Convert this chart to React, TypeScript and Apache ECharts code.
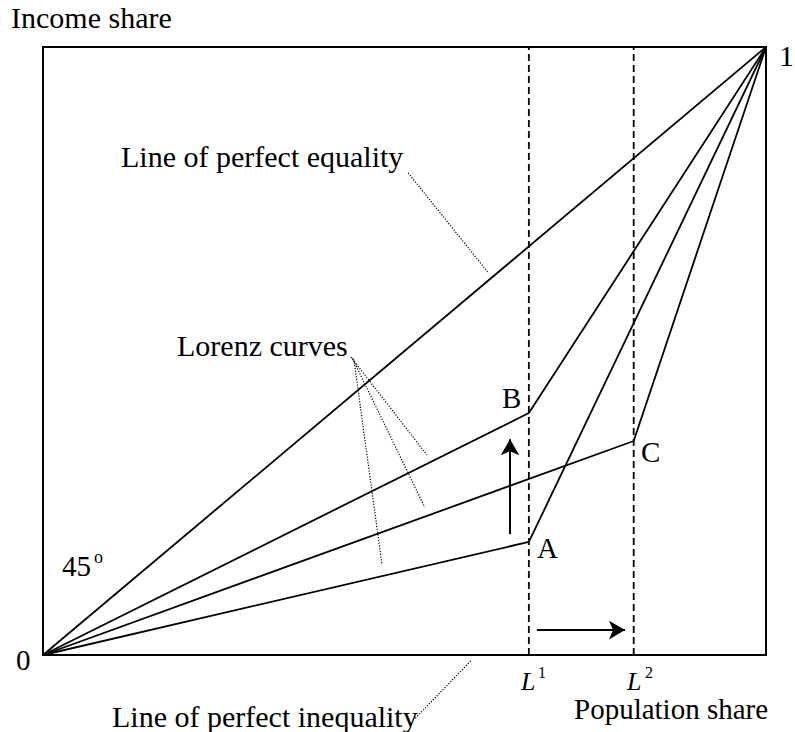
import React, { useEffect, useRef } from "react";
import * as echarts from "echarts";

// Population share (x) and income share (y), both on [0, 1]
const L1 = 0.672;
const L2 = 0.817;
const equalityLine = [[0, 0], [1, 1]];
const lorenzA = [[0, 0], [L1, 0.186], [1, 1]];
const lorenzB = [[0, 0], [L1, 0.398], [1, 1]];
const lorenzC = [[0, 0], [L2, 0.352], [1, 1]];
const dashL1 = [[L1, 0], [L1, 1]];
const dashL2 = [[L2, 0], [L2, 1]];
const arrowUp = [[0.646, 0.199], [0.646, 0.355]];
const arrowRight = [[0.683, 0.041], [0.805, 0.041]];
const leaderEquality = [[0.505, 0.793], [0.615, 0.63]];
const leaderLorenz1 = [[0.426, 0.49], [0.531, 0.329]];
const leaderLorenz2 = [[0.428, 0.488], [0.528, 0.243]];
const leaderLorenz3 = [[0.43, 0.486], [0.469, 0.148]];
const leaderInequality = [[0.515, -0.104], [0.593, -0.008]];

const FONT = '"Liberation Serif", "Times New Roman", serif';

function txt(text: string, left: number, baseline: number, size = 30, italic = false) {
  return {
    type: "text",
    x: left,
    y: baseline - 0.34 * size,
    silent: true,
    style: {
      text,
      fill: "#000",
      font: `${italic ? "italic " : ""}${size}px ${FONT}`,
      textAlign: "left",
      textVerticalAlign: "middle",
    },
  };
}

export default function App() {
  const ref = useRef<HTMLDivElement>(null);
  useEffect(() => {
    if (!ref.current) return;
    const chart = echarts.init(ref.current, null, { renderer: "svg" });
    const solid = (data: number[][]) => ({
      type: "line",
      data,
      symbol: "none",
      silent: true,
      clip: false,
      lineStyle: { color: "#000", width: 1.8 },
    });
    const dashed = (data: number[][]) => ({
      type: "line",
      data,
      symbol: "none",
      silent: true,
      lineStyle: { color: "#000", width: 1.8, type: [7, 4] },
    });
    const dotted = (data: number[][]) => ({
      type: "line",
      data,
      symbol: "none",
      silent: true,
      clip: false,
      lineStyle: { color: "#000", width: 1.2, type: [1.2, 1.6] },
    });
    chart.setOption({
      animation: false,
      backgroundColor: "#fff",
      grid: {
        left: 43,
        right: 29,
        top: 47,
        bottom: 77,
        show: true,
        borderColor: "#000",
        borderWidth: 2,
        backgroundColor: "transparent",
      },
      xAxis: { type: "value", min: 0, max: 1, show: false },
      yAxis: { type: "value", min: 0, max: 1, show: false },
      series: [
        solid(equalityLine),
        solid(lorenzA),
        solid(lorenzB),
        solid(lorenzC),
        dashed(dashL1),
        dashed(dashL2),
        dotted(leaderEquality),
        dotted(leaderLorenz1),
        dotted(leaderLorenz2),
        dotted(leaderLorenz3),
        dotted(leaderInequality),
        {
          type: "line",
          data: [],
          symbol: "none",
          silent: true,
          markLine: {
            silent: true,
            symbol: ["none", "arrow"],
            symbolSize: [14, 16],
            label: { show: false },
            lineStyle: { color: "#000", width: 2, type: "solid" },
            emphasis: { disabled: true },
            data: [
              [{ coord: arrowUp[0] }, { coord: arrowUp[1] }],
              [{ coord: arrowRight[0] }, { coord: arrowRight[1] }],
            ],
          },
        },
      ],
      graphic: [
        txt("Income share", 11, 28),
        txt("1", 779, 66),
        txt("Line of perfect equality", 121, 167),
        txt("Lorenz curves", 177, 356),
        txt("B", 502, 408, 29),
        txt("A", 537, 558, 29),
        txt("C", 641, 462, 29),
        txt("45", 62, 576, 29),
        txt("o", 94, 563, 18),
        txt("0", 16, 670, 29),
        txt("L", 521, 690, 26, true),
        txt("1", 538, 678, 16),
        txt("L", 627, 690, 26, true),
        txt("2", 645, 678, 16),
        txt("Population share", 574, 719, 29),
        txt("Line of perfect inequality", 112, 727),
      ],
    });
    return () => chart.dispose();
  }, []);
  return (
    <div
      ref={ref}
      style={{ position: "fixed", left: 0, top: 0, width: 795, height: 732, background: "#fff" }}
    />
  );
}
